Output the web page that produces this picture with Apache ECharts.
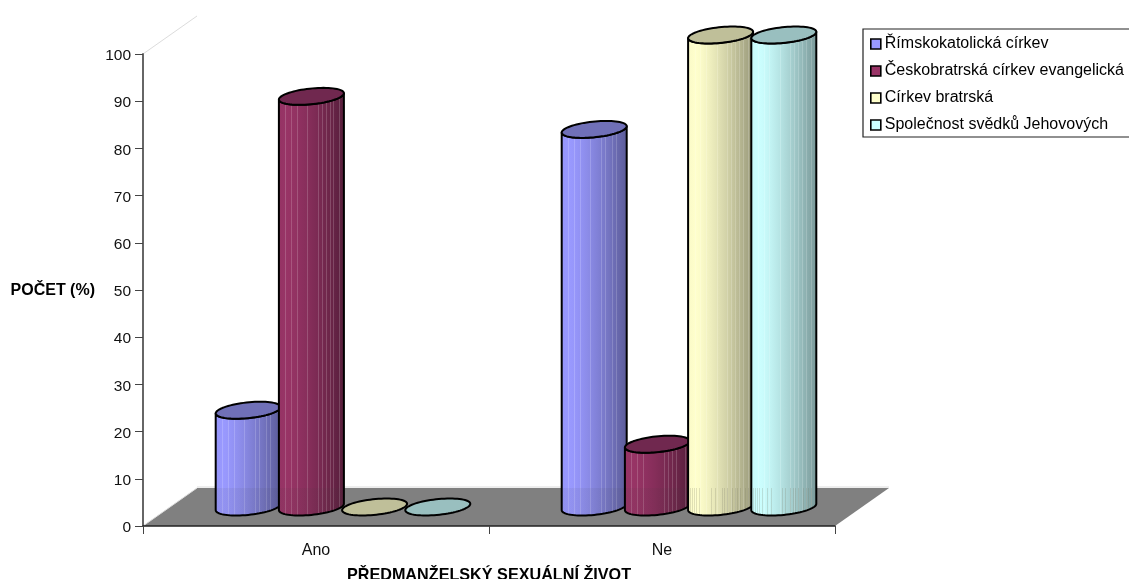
<!DOCTYPE html>
<html><head><meta charset="utf-8">
<style>html,body{margin:0;padding:0;background:#fff}#c{width:1129px;height:579px}</style>
<script src="https://cdn.jsdelivr.net/npm/echarts@6/dist/echarts.min.js"></script>
</head><body><div id="c"></div>
<script>
const categories = ['Ano', 'Ne'];
const seriesNames = ['Římskokatolická církev', 'Českobratrská církev evangelická', 'Církev bratrská', 'Společnost svědků Jehovových'];
const rimskokatolicka = [20.5, 80];
const ceskobratrska = [87, 13.3];
const bratrska = [0, 100];
const jehovovi = [0, 100];
const seriesValues = [rimskokatolicka, ceskobratrska, bratrska, jehovovi];
const yTicks = {min: 0, max: 100, interval: 10};

const lightColors = [[153,153,255],[152,52,102],[255,255,204],[204,255,255]];
const darkColors = [[92,92,153],[88,31,60],[153,153,122],[122,153,153]];
const topColors = ['#7070b8','#70284f','#bfbf99','#99bfbf'];
const legendColors = ['#9999ff','#993366','#ffffcc','#ccffff'];
const DEPTH_X = 54, DEPTH_Y = 38, RX = 32.5, RY = 8.5, SPACING = 63.2;
const stripes = [.1,.19,.28,.44,.6,.66,.72,.78,.84,.92];

const mix = (a, b, t) => a.map((v, i) => Math.round(v + (b[i] - v) * t));
const rgb = c => `rgb(${c[0]},${c[1]},${c[2]})`;

function sideGradient(si) {
  const shade = t => {
    const s = t < .12 ? .05 * (1 - t / .12) : Math.pow((t - .12) / .88, 1.3);
    return mix(lightColors[si], darkColors[si], s);
  };
  const stops = [];
  let last = 0;
  const add = (o, c) => stops.push({offset: o, color: rgb(c)});
  stripes.forEach(p => {
    add(last, shade(last)); add(p, shade(p));
    const hi = mix(shade(p), [255,255,255], .17);
    add(p, hi); add(p + .014, hi);
    last = p + .014;
  });
  add(last, shade(last)); add(1, shade(1));
  return new echarts.graphic.LinearGradient(0, 0, 1, 0, stops);
}
function floorStripeGradient(si) {
  const stops = [];
  const over = si >= 2 ? 'rgba(120,120,100,0.22)' : 'rgba(60,60,60,0.07)';
  const clear = si >= 2 ? 'rgba(120,120,100,0)' : 'rgba(60,60,60,0.07)';
  [.03,.06,.09,.12,.17,.24,.3,.36,.42,.47,.52,.56,.6,.64,.68,.72,.76,.8,.84,.88,.92,.96].forEach(p => {
    stops.push({offset: p, color: clear}, {offset: p, color: over},
               {offset: p + .012, color: over}, {offset: p + .012, color: clear});
  });
  return new echarts.graphic.LinearGradient(0, 0, 1, 0, stops);
}
const DX = RY * DEPTH_X / DEPTH_Y;
const A = Math.sqrt(RX * RX - DX * DX);
const T0 = Math.atan2(DX, A);
const ePoint = (cx, cy, t) => [cx + A * Math.cos(t) + DX * Math.sin(t), cy - RY * Math.sin(t)];
function ellipsePts(cx, cy) {
  const p = [];
  for (let i = 0; i < 72; i++) p.push(ePoint(cx, cy, i / 72 * 2 * Math.PI));
  return p;
}
function lowerArc(cx, cy) {
  const p = [];
  for (let i = 0; i <= 36; i++) p.push(ePoint(cx, cy, T0 + Math.PI + i / 36 * Math.PI));
  return p;
}

function renderCylinder(si, params, api) {
  const cat = api.value(0), val = api.value(1);
  const base = api.coord([cat, 0]);
  const top = api.coord([cat, val]);
  const cx = base[0] + DEPTH_X / 2 + (si - 1.5) * SPACING;
  const by = base[1] - DEPTH_Y / 2;
  const ty = top[1] - DEPTH_Y / 2;
  const children = [];
  const stroke = {stroke: '#000', lineWidth: 2, lineJoin: 'round'};
  if (val > 0) {
    const pts = lowerArc(cx, by).concat(lowerArc(cx, ty).reverse());
    children.push({type: 'polygon', shape: {points: pts}, style: {fill: sideGradient(si)}});
    const floorBack = base[1] - DEPTH_Y;
    const low = pts.map(q => [q[0], Math.max(q[1], floorBack)]);
    children.push({type: 'polygon', shape: {points: low}, style: {fill: floorStripeGradient(si)}});
    children.push({type: 'polygon', shape: {points: pts}, style: Object.assign({fill: 'none'}, stroke)});
  }
  children.push({type: 'polygon', shape: {points: ellipsePts(cx, ty)}, style: Object.assign({fill: topColors[si]}, stroke)});
  return {type: 'group', children};
}
function renderFloor(params, api) {
  const band = api.size([1, 0])[0];
  const a = api.coord([0, 0]), b = api.coord([1, 0]);
  const l = a[0] - band / 2, r = b[0] + band / 2, y = a[1];
  const topY = api.coord([0, 100])[1];
  const line = (x1, y1, x2, y2) => ({type: 'line', shape: {x1, y1, x2, y2}, style: {stroke: '#dcdcdc', lineWidth: 1}});
  return {type: 'group', children: [
    {type: 'polygon', shape: {points: [[l, y], [r, y], [r + DEPTH_X, y - DEPTH_Y], [l + DEPTH_X, y - DEPTH_Y]]}, style: {fill: '#808080'}},
    line(l + DEPTH_X, y - DEPTH_Y - 1, r + DEPTH_X, y - DEPTH_Y - 1),
    line(l, y, l + DEPTH_X, y - DEPTH_Y),
    line(l, topY, l + DEPTH_X, topY - DEPTH_Y),
  ]};
}

const series = [{type: 'custom', name: 'floor', z: 1, data: [[0, 0]], renderItem: renderFloor, silent: true, encode: {x: 0, y: 1}}];
seriesNames.forEach((name, si) => {
  series.push({
    type: 'custom', name, z: 3 + si, clip: false, silent: true,
    itemStyle: {color: legendColors[si]},
    data: categories.map((c, i) => [i, seriesValues[si][i]]),
    encode: {x: 0, y: 1},
    renderItem: (p, api) => renderCylinder(si, p, api)
  });
});

const font = 'Liberation Sans';
const chart = echarts.init(document.getElementById('c'), null, {renderer: 'canvas'});
chart.setOption({
  animation: false,
  backgroundColor: '#fff',
  grid: {left: 143, top: 54, width: 692, height: 472, containLabel: false, outerBoundsMode: 'none'},
  xAxis: {
    type: 'category', data: categories, z: 10,
    axisLine: {lineStyle: {color: '#222', width: 1.5}},
    axisTick: {show: true, alignWithLabel: false, interval: 0, length: 8, lineStyle: {color: '#444', width: 1}},
    axisLabel: {color: '#111', fontFamily: font, fontSize: 16, margin: 17},
    name: 'PŘEDMANŽELSKÝ SEXUÁLNÍ ŽIVOT', nameLocation: 'middle', nameGap: 42,
    nameTextStyle: {fontFamily: font, fontSize: 16.2, fontWeight: 'bold', color: '#000'}
  },
  yAxis: {
    type: 'value', min: yTicks.min, max: yTicks.max, interval: yTicks.interval, z: 10,
    splitLine: {show: false},
    axisLine: {show: true, lineStyle: {color: '#666', width: 2}},
    axisTick: {show: true, length: 8, lineStyle: {color: '#444', width: 1}},
    axisLabel: {color: '#111', fontFamily: font, fontSize: 15.5, margin: 12, verticalAlign: 'top', padding: [-6, 0, 0, 0]},
    name: 'POČET (%)', nameLocation: 'middle', nameRotate: 0, nameGap: 48,
    nameTextStyle: {fontFamily: font, fontSize: 16, fontWeight: 'bold', color: '#000', verticalAlign: 'top', padding: [-7, 0, 0, 0]}
  },
  legend: {
    orient: 'vertical', left: 863, top: 29, itemWidth: 10, itemHeight: 10, itemGap: 11,
    padding: [7, 20, 4, 7], borderColor: '#222', borderWidth: 1.2,
    icon: 'rect', selectedMode: false,
    textStyle: {fontFamily: font, fontSize: 16, color: '#000', padding: [0, 0, 0, -1]},
    data: seriesNames.map((name, i) => ({name, icon: 'rect', itemStyle: {color: legendColors[i], borderColor: '#000', borderWidth: 1.6}}))
  },
  series
});
</script></body></html>
